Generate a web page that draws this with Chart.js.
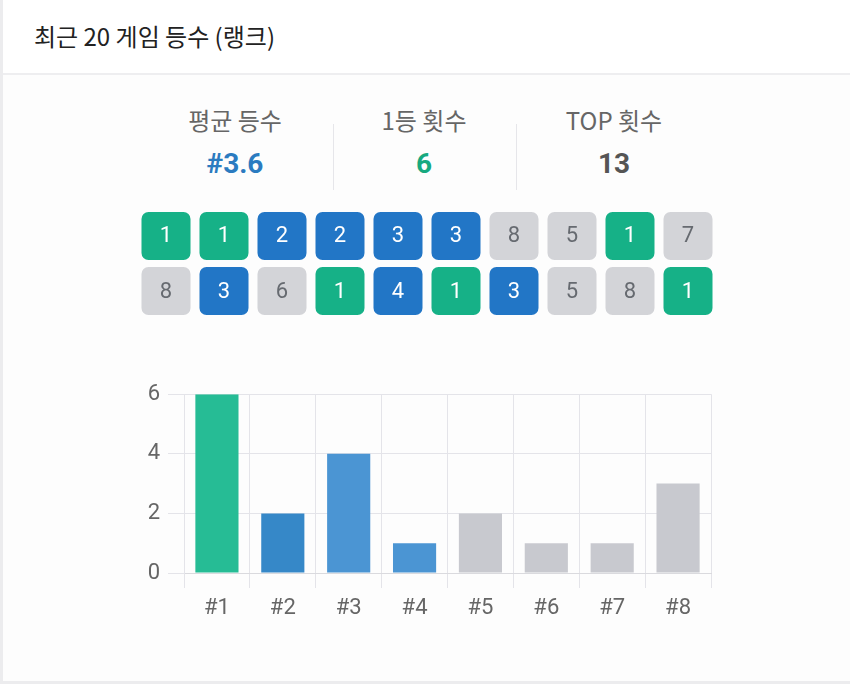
<!DOCTYPE html>
<html><head><meta charset="utf-8">
<script src="https://cdn.jsdelivr.net/npm/chart.js@4/dist/chart.umd.min.js"></script>
<style>
html,body{margin:0;padding:0;width:850px;height:684px;overflow:hidden;background:#ececee;font-family:"Noto Sans CJK KR","Noto Sans",sans-serif;}
#card{position:absolute;left:3px;top:0;width:847px;height:681px;background:#fdfdfd;}
#head{position:absolute;left:0;top:0;width:847px;height:73px;background:#fff;border-bottom:2px solid #eeeef0;}
#title{position:absolute;left:31px;top:20px;font-size:24px;color:#222;line-height:32px;}
.stat{position:absolute;width:200px;text-align:center;}
.lbl{font-size:24px;color:#666;line-height:30px;}
.val{font-family:Roboto,"Noto Sans",sans-serif;font-weight:bold;font-size:28px;line-height:34px;margin-top:12px;}
.div{position:absolute;width:1px;top:124px;height:66px;background:#e6e6ea;}
</style></head>
<body>
<div id="card">
 <div id="head"><div id="title">최근 20 게임 등수 (랭크)</div></div>
</div>
<div class="stat" style="left:135px;top:105px"><div class="lbl">평균 등수</div><div class="val" id="v0" style="color:#2b7bc0"></div></div>
<div class="div" style="left:333px"></div>
<div class="stat" style="left:324px;top:105px"><div class="lbl">1등 횟수</div><div class="val" id="v1" style="color:#17a97f"></div></div>
<div class="div" style="left:516px"></div>
<div class="stat" style="left:514px;top:105px"><div class="lbl">TOP 횟수</div><div class="val" id="v2" style="color:#555"></div></div>
<div style="position:absolute;left:137px;top:212px;width:580px;height:103px"><canvas id="badges"></canvas></div>
<div style="position:absolute;left:100px;top:373px;width:620px;height:257px"><canvas id="hist"></canvas></div>
<script>
// --- data ---
const recentRanks = [1,1,2,2,3,3,8,5,1,7, 8,3,6,1,4,1,3,5,8,1];
const rankLabels = ['#1','#2','#3','#4','#5','#6','#7','#8'];
const rankCounts = [6,2,4,1,2,1,1,3];
const statValues = ['#3.6','6','13'];
const yTicks = [0,2,4,6];

document.getElementById('v0').textContent = statValues[0];
document.getElementById('v1').textContent = statValues[1];
document.getElementById('v2').textContent = statValues[2];

const GREEN = '#16b187', BLUE = '#2276c6', GRAY = '#d3d4d8';
function badgeColor(r){ return r===1?GREEN:(r<=4?BLUE:GRAY); }

// badge grid via floating bars
const perRow = 10;
const gap = 0.068;
const row1 = recentRanks.slice(0, perRow), row2 = recentRanks.slice(perRow);
const badgeText = {
  id:'badgeText',
  afterDatasetsDraw(chart){
    const ctx = chart.ctx;
    ctx.save();
    ctx.font = '22px Roboto, "Noto Sans", sans-serif';
    ctx.textAlign='center'; ctx.textBaseline='middle';
    chart.data.datasets.forEach((ds,di)=>{
      chart.getDatasetMeta(di).data.forEach((el,i)=>{
        const r = ds.ranks[i];
        ctx.fillStyle = r<=4 ? '#ffffff' : '#666a70';
        ctx.fillText(String(r), el.x, (el.y+el.base)/2+1);
      });
    });
    ctx.restore();
  }
};
new Chart(document.getElementById('badges'), {
  type:'bar',
  data:{
    labels: row1.map((_,i)=>String(i+1)),
    datasets:[
      {ranks:row1, data:row1.map(()=>[1+gap,2]), backgroundColor:row1.map(badgeColor)},
      {ranks:row2, data:row2.map(()=>[0,1-gap]), backgroundColor:row2.map(badgeColor)}
    ]
  },
  options:{
    responsive:true, maintainAspectRatio:false, animation:false,
    grouped:false,
    datasets:{bar:{barPercentage:0.845, categoryPercentage:1, borderRadius:7, borderSkipped:false}},
    plugins:{legend:{display:false}, tooltip:{enabled:false}},
    layout:{padding:0},
    scales:{x:{display:false}, y:{display:false, min:0, max:2}}
  },
  plugins:[badgeText]
});

// histogram
const barColors = rankLabels.map((_,i)=> i===0 ? '#26bc95' : (i===1 ? '#3688c8' : (i<=3 ? '#4b95d3' : '#c8c9cf')));
new Chart(document.getElementById('hist'), {
  type:'bar',
  data:{labels:rankLabels, datasets:[{data:rankCounts, backgroundColor:barColors, barPercentage:0.655, categoryPercentage:1}]},
  options:{
    responsive:true, maintainAspectRatio:false, animation:false,
    plugins:{legend:{display:false}, tooltip:{enabled:false}},
    layout:{padding:{top:8,right:9,left:0,bottom:0}},
    scales:{
      x:{
        grid:{color:'#e4e4e9', tickLength:15, offset:true},
        border:{color:'#dadade'},
        ticks:{font:{family:'Roboto',size:22}, color:'#666', padding:7},
        afterFit(s){ s.height = 57; }
      },
      y:{
        min:0, max:6,
        afterBuildTicks(s){ s.ticks = yTicks.map(v=>({value:v})); },
        grid:{color:'#e4e4e9', tickLength:16},
        border:{color:'#e4e4e9'},
        ticks:{font:{family:'Roboto',size:22}, color:'#666', padding:8},
        afterFit(s){ s.width = 84; }
      }
    }
  }
});
</script>
</body></html>
